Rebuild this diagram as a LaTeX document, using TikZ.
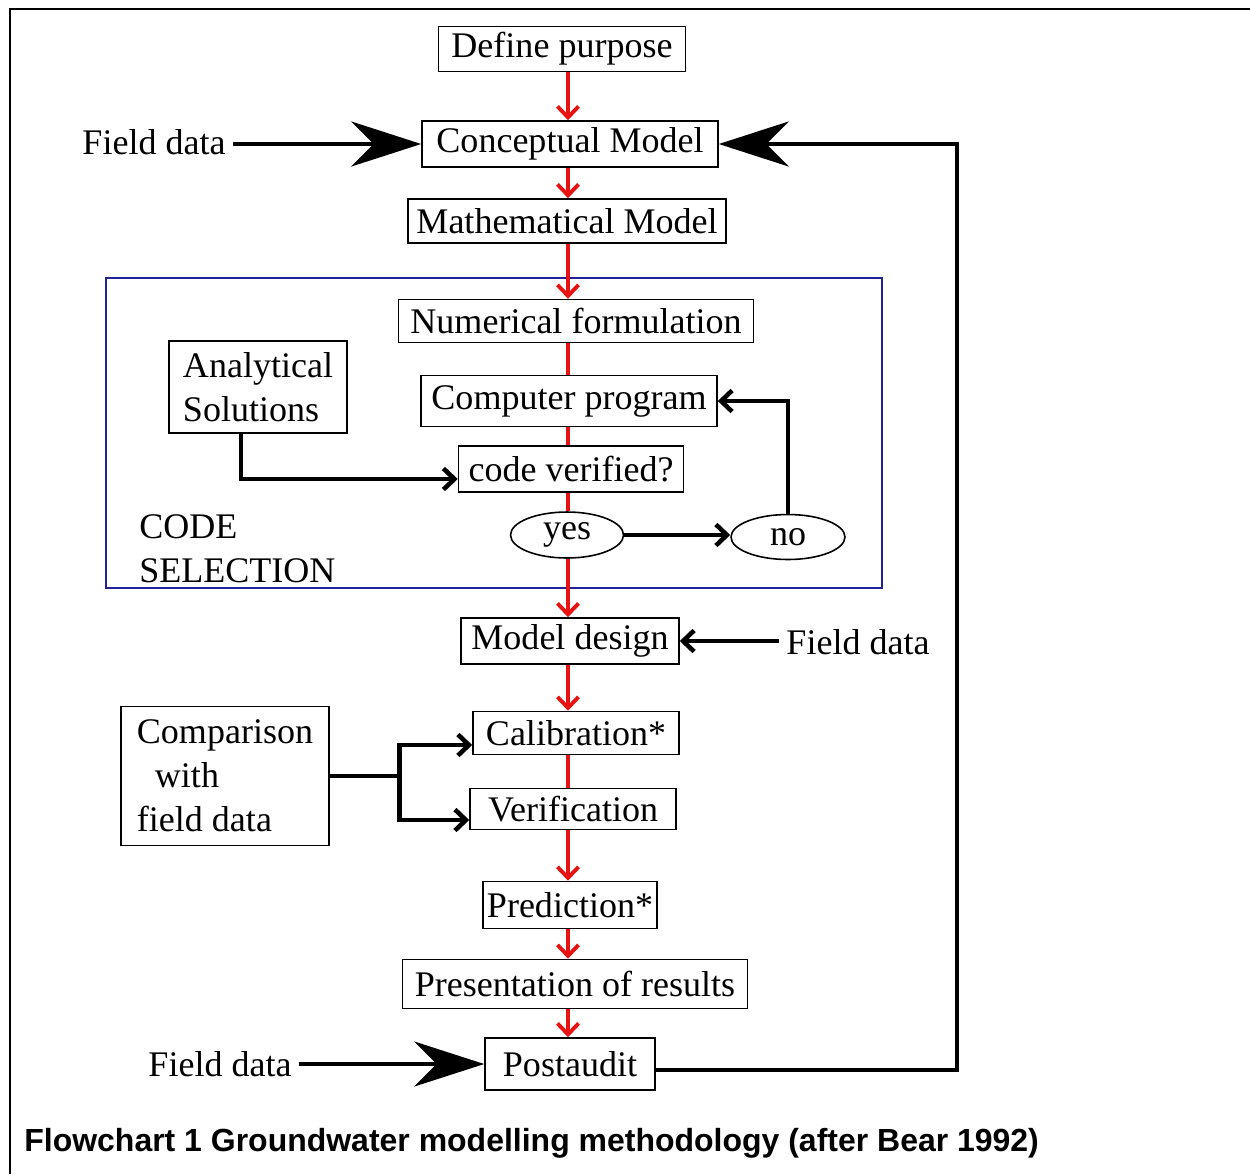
\documentclass[tikz,border=0pt]{standalone}
\usepackage{fontspec}
\setmainfont{Liberation Serif}
\newfontfamily\captionfont{Liberation Sans}
\usetikzlibrary{arrows.meta, positioning, shapes.geometric}
\definecolor{frameblue}{RGB}{35,35,150}
\definecolor{flowred}{RGB}{232,18,18}

\begin{document}
\begin{tikzpicture}[x=0.02cm, y=-0.02cm,
  stage/.style={rectangle, draw=black, line width=0.9pt, inner xsep=2pt, inner ysep=0pt, font=\fontsize{20.5}{25}\selectfont, align=center},
  answer/.style={ellipse, draw=black, line width=0.9pt, inner sep=0pt, font=\fontsize{20.5}{25}\selectfont},
  lbl/.style={font=\fontsize{20.5}{25}\selectfont, inner sep=4pt, align=left},
  redline/.style={draw=flowred, line width=2.2pt},
  redflow/.style={redline, -{Straight Barb[length=0.22cm, width=0.42cm]}},
  feed/.style={line width=2.6pt, -{Straight Barb[length=0.22cm, width=0.42cm]}},
  bigfeed/.style={line width=2.6pt, -{Stealth[length=1.4cm, width=0.9cm, inset=0.45cm]}}
]
\useasboundingbox (0,0) rectangle (1250,1174);

% frame round the figure
\draw[line width=1.7pt] (1250,9) -- (10,9) -- (10,1174);

% code selection frame
\draw[frameblue, line width=1.1pt] (106,278) rectangle (882,588);
\node[lbl, anchor=west] (codesel) at (132,549) {CODE\\SELECTION};

% main column
\coordinate (spine) at (568,0);
\node[stage, minimum width=4.94cm, minimum height=0.9cm] (define) at (562,49) {Define purpose};
\node[stage, minimum width=5.92cm, minimum height=0.92cm] (concept) at (570,144) {Conceptual Model};
\node[stage, minimum width=6.36cm, minimum height=0.88cm] (math) at (567,221) {Mathematical Model};
\node[stage, minimum width=7.1cm, minimum height=0.86cm] (numer) at (576,321) {Numerical formulation};
\node[stage, minimum width=5.92cm, minimum height=1.02cm] (program) at (569,401) {Computer program};
\node[stage, minimum width=4.5cm, minimum height=0.92cm] (verified) at (571,469) {code verified?};
\node[answer, minimum width=2.26cm, minimum height=0.92cm] (yes) at (567,535) {yes};
\node[answer, minimum width=2.28cm, minimum height=0.9cm] (no) at (788,537) {no};
\node[stage, minimum width=4.36cm, minimum height=0.92cm] (design) at (570,641) {Model design};
\node[stage, minimum width=4.12cm, minimum height=0.86cm] (calib) at (576,733) {Calibration*};
\node[stage, minimum width=4.12cm, minimum height=0.82cm] (verif) at (573,809) {Verification};
\node[stage, minimum width=3.48cm, minimum height=0.94cm] (predict) at (570,905) {Prediction*};
\node[stage, minimum width=6.9cm, minimum height=0.98cm] (present) at (575,984) {Presentation of results};
\node[stage, minimum width=3.4cm, minimum height=1.04cm] (postaudit) at (570,1064) {Postaudit};

% side inputs
\node[stage, align=left, minimum width=3.56cm, minimum height=1.84cm] (analytic) at (258,387) {Analytical\\Solutions};
\node[stage, align=left, minimum width=4.16cm, minimum height=2.78cm] (compare) at (225,776) {Comparison\\\hspace{0.5em}with\\field data};
\node[lbl] (fielda) at (154,142) {Field data};
\node[lbl] (fieldb) at (858,642) {Field data};
\node[lbl] (fieldc) at (220,1064) {Field data};

% red flow down the column
\draw[redflow] (define.south -| spine) -- (concept.north -| spine);
\draw[redflow] (concept.south -| spine) -- (math.north -| spine);
\draw[redflow] (math.south -| spine) -- (numer.north -| spine);
\draw[redline] (numer.south -| spine) -- (program.north -| spine);
\draw[redline] (program.south -| spine) -- (verified.north -| spine);
\draw[redline] (verified.south -| spine) -- (yes.north -| spine);
\draw[redflow] (yes.south -| spine) -- (design.north -| spine);
\draw[redflow] (design.south -| spine) -- (calib.north -| spine);
\draw[redline] (calib.south -| spine) -- (verif.north -| spine);
\draw[redflow] (verif.south -| spine) -- (predict.north -| spine);
\draw[redflow] (predict.south -| spine) -- (present.north -| spine);
\draw[redflow] (present.south -| spine) -- (postaudit.north -| spine);

% code checking loop
\draw[feed] ([xshift=-0.34cm]analytic.south) |- ([yshift=-0.2cm]verified.west);
\draw[feed] (yes.east) -- (yes.east -| no.west);
\draw[feed] (no.north) |- (program.east);

% field data and comparison
\draw[bigfeed] (concept.west -| fielda.east) -- (concept.west);
\draw[feed] (design.east -| fieldb.west) -- (design.east);
\draw[bigfeed] (postaudit.west -| fieldc.east) -- (postaudit.west);
\coordinate[right=1.4cm of compare.east] (split);
\draw[line width=2.6pt] (compare.east) -- (split);
\draw[feed] (split) |- ([yshift=-0.24cm]calib.west);
\draw[feed] (split) |- ([yshift=-0.22cm]verif.west);

% postaudit back to the conceptual model
\coordinate (loop) at (957,600);
\draw[bigfeed] ([yshift=-0.12cm]postaudit.east) -| (loop) |- (concept.east);

% caption
\node[anchor=west, inner sep=0pt, font=\captionfont\bfseries\fontsize{18.2}{20}\selectfont] (caption) at (24,1143) {Flowchart 1 Groundwater modelling methodology (after Bear 1992)};
\end{tikzpicture}
\end{document}
